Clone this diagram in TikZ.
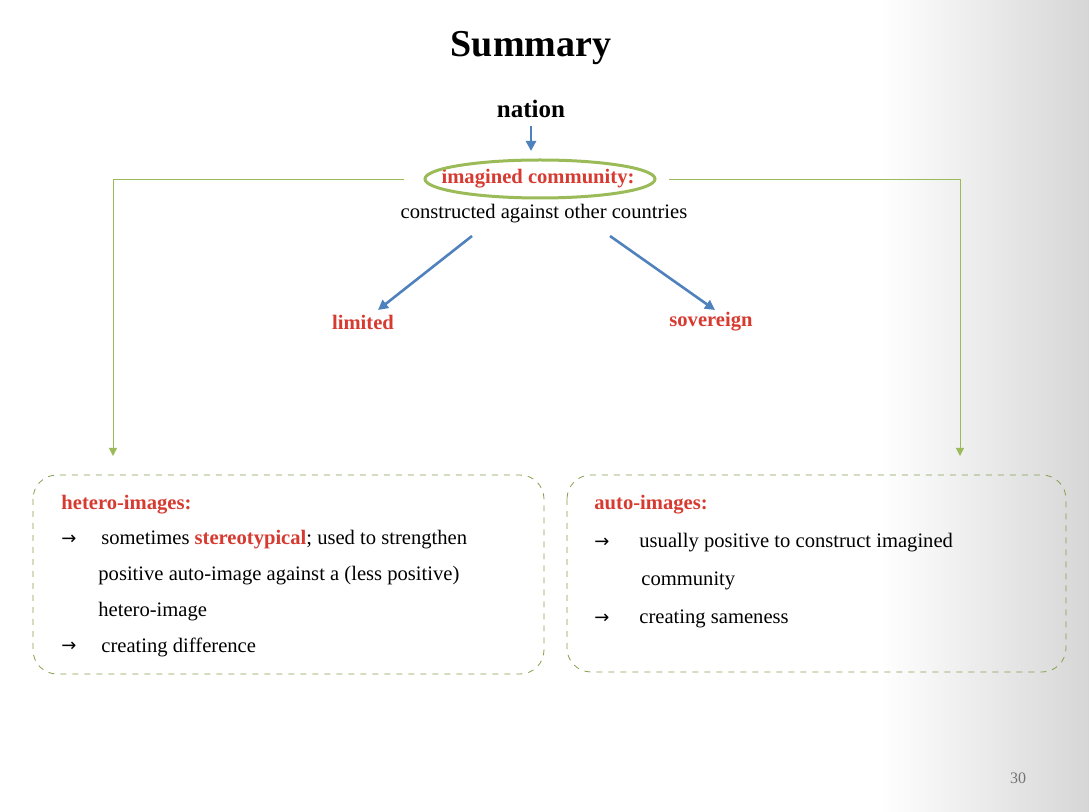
\documentclass[tikz,border=0pt]{standalone}
\usepackage{fontspec}
\setmainfont{Liberation Serif}
\newfontfamily\arrowfont{DejaVu Sans}
\usetikzlibrary{arrows,arrows.meta,positioning,shapes.geometric,calc}
\definecolor{redtxt}{RGB}{214,58,48}
\definecolor{greenln}{RGB}{155,187,89}
\definecolor{blueln}{RGB}{79,129,189}
\newcommand{\body}{\fontsize{10.3}{14}\selectfont}
\newcommand{\hi}[1]{\textcolor{redtxt}{\textbf{#1}}}
\newcommand{\arr}{{\arrowfont\fontsize{9}{10}\selectfont →}}
\tikzset{
 lbl/.style={inner sep=0pt, font=\body},
 greenarrow/.style={greenln, thin, -{Triangle[length=4pt,width=4pt]}},
 bluearrow/.style={blueln, line width=1.3pt, -{Triangle[length=5pt,width=5pt]}},
 imgbox/.style={draw=greenln!85!black, dashed, rounded corners=12pt, thin},
}
\begin{document}
\begin{tikzpicture}[x=0.5pt,y=-0.5pt]
\useasboundingbox (0,0) rectangle (1089,812);
\shade[left color=white, right color=black!16] (880,0) rectangle (1089,812);
\node[lbl, font=\fontsize{19}{20}\selectfont\bfseries] (title) at (531,48) {Summary};
\node[lbl, font=\fontsize{12.5}{14}\selectfont\bfseries] (nation) at (531,109) {nation};
\node[lbl, font=\body\bfseries, text=redtxt] (imag) at (538,179) {imagined community:};
\node[draw=greenln, line width=1.5pt, ellipse, minimum width=115pt, minimum height=19pt] (ell) at (540,179) {};
\node[lbl] (constr) at (544,214) {constructed against other countries};
\coordinate (ntop) at (531,126);
\coordinate (nbot) at (531,151);
\draw[bluearrow] (ntop) -- (nbot);
\coordinate (lend) at (113,456);
\coordinate (rend) at (960,456);
\draw[greenarrow] (ell.west) ++(-20,0) -| (lend);
\draw[greenarrow] (ell.east) ++(12,0) -| (rend);
\node[lbl, font=\body\bfseries, text=redtxt] (lim) at (363,322) {limited};
\node[lbl, font=\body\bfseries, text=redtxt] (sov) at (711,322) {sovereign};
\coordinate (cl) at (472,236);
\coordinate (cr) at (610,236);
\draw[bluearrow] (cl) -- (378,310);
\draw[bluearrow] (cr) -- (715,310);
% boxes
\draw[imgbox] (33,475) rectangle (544,674);
\draw[imgbox] (567,475) rectangle (1066,672);
\node[lbl, anchor=west, font=\body\bfseries, text=redtxt] (het) at (61,505) {hetero-images:};
\node[lbl, anchor=west] (h1) at (61,540) {\arr};
\node[lbl, anchor=west] (h1t) at (101,540) {sometimes \hi{stereotypical}; used to strengthen};
\node[lbl, anchor=west] (h2) at (98,576) {positive auto-image against a (less positive)};
\node[lbl, anchor=west] (h3) at (98,612) {hetero-image};
\node[lbl, anchor=west] (h4) at (61,647) {\arr};
\node[lbl, anchor=west] (h4t) at (101,647) {creating difference};
\node[lbl, anchor=west, font=\body\bfseries, text=redtxt] (aut) at (594,505) {auto-images:};
\node[lbl, anchor=west] (a1) at (594,543) {\arr};
\node[lbl, anchor=west] (a1t) at (639,543) {usually positive to construct imagined};
\node[lbl, anchor=west] (a2) at (641,581) {community};
\node[lbl, anchor=west] (a3) at (594,619) {\arr};
\node[lbl, anchor=west] (a3t) at (639,619) {creating sameness};
\node[lbl, font=\fontsize{8}{10}\selectfont, text=black!55] (page) at (1018,778) {30};
\end{tikzpicture}
\end{document}
